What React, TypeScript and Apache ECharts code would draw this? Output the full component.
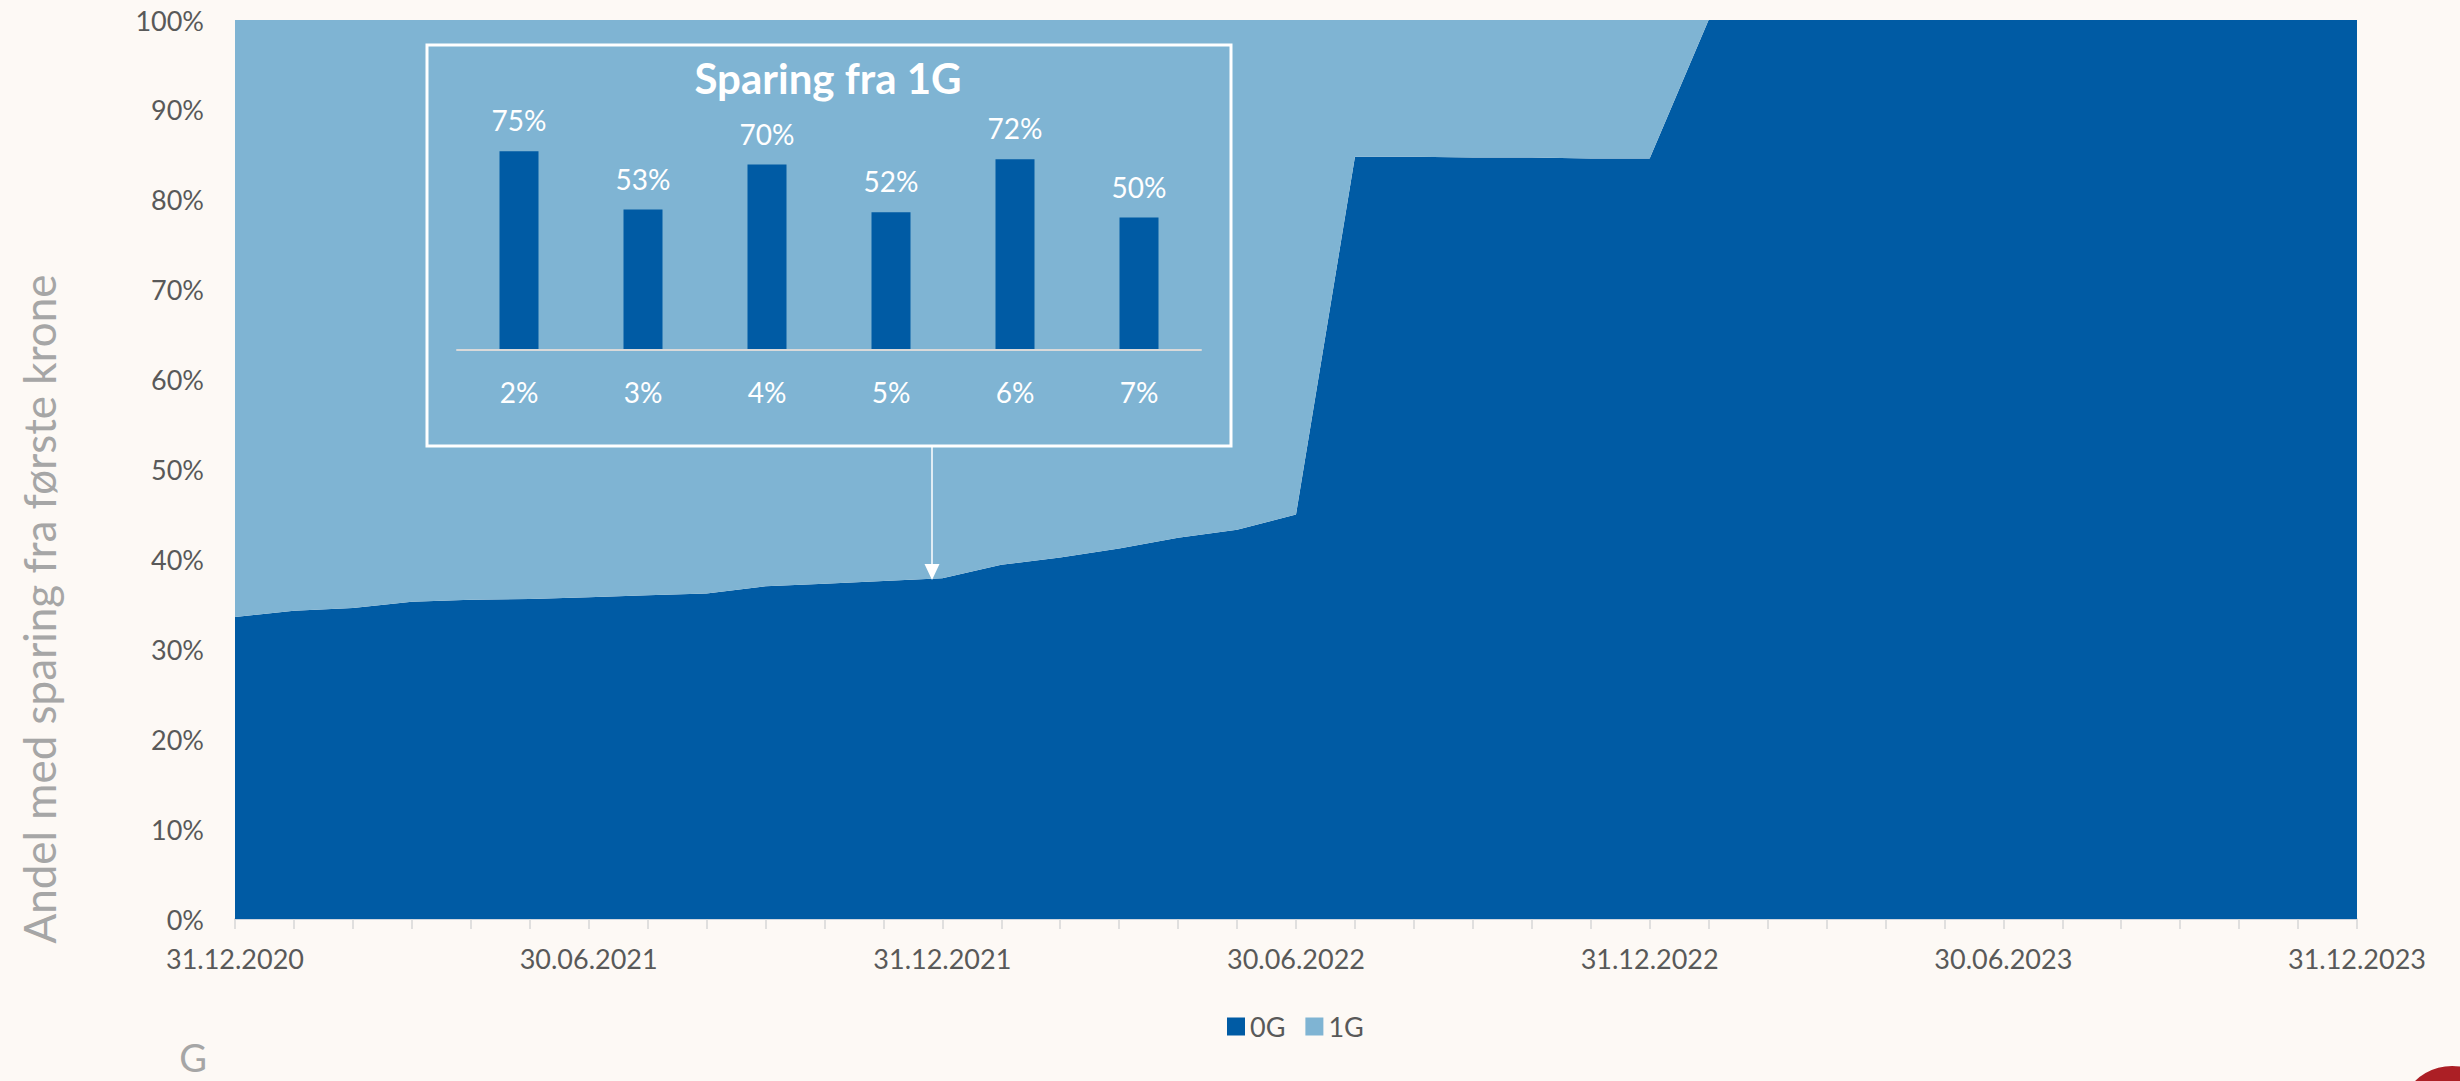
import React, { useEffect, useRef } from "react";
import * as echarts from "echarts";

const dates = [
  "31.12.2020", "31.01.2021", "28.02.2021", "31.03.2021", "30.04.2021", "31.05.2021",
  "30.06.2021", "31.07.2021", "31.08.2021", "30.09.2021", "31.10.2021", "30.11.2021",
  "31.12.2021", "31.01.2022", "28.02.2022", "31.03.2022", "30.04.2022", "31.05.2022",
  "30.06.2022", "31.07.2022", "31.08.2022", "30.09.2022", "31.10.2022", "30.11.2022",
  "31.12.2022", "31.01.2023", "28.02.2023", "31.03.2023", "30.04.2023", "31.05.2023",
  "30.06.2023", "31.07.2023", "31.08.2023", "30.09.2023", "31.10.2023", "30.11.2023",
  "31.12.2023",
];

const share0G = [
  33.6, 34.3, 34.6, 35.3, 35.5, 35.6, 35.8, 36.0, 36.2, 37.0, 37.3, 37.6,
  37.9, 39.4, 40.2, 41.2, 42.4, 43.3, 45.0, 84.8, 84.8, 84.7, 84.7, 84.6,
  84.6, 100, 100, 100, 100, 100, 100, 100, 100, 100, 100, 100, 100,
];

const share1G = [
  66.4, 65.7, 65.4, 64.7, 64.5, 64.4, 64.2, 64.0, 63.8, 63.0, 62.7, 62.4,
  62.1, 60.6, 59.8, 58.8, 57.6, 56.7, 55.0, 15.2, 15.2, 15.3, 15.3, 15.4,
  15.4, 0, 0, 0, 0, 0, 0, 0, 0, 0, 0, 0, 0,
];

const yTicks = [0, 10, 20, 30, 40, 50, 60, 70, 80, 90, 100];

const insetCategories = ["2%", "3%", "4%", "5%", "6%", "7%"];
const insetValues = [75, 53, 70, 52, 72, 50];

const DARK = "#005BA4";
const LIGHT = "#7FB4D3";
const FONT = "Lato, 'Open Sans', sans-serif";

export default function App() {
  const ref = useRef<HTMLDivElement>(null);

  useEffect(() => {
    document.body.style.margin = "0";
    const chart = echarts.init(ref.current!, undefined, { renderer: "svg" });
    chart.setOption({
      animation: false,
      backgroundColor: "#FDF9F5",
      textStyle: { fontFamily: FONT },
      grid: [
        { left: 235, right: 103, top: 20, bottom: 162 },
        { left: 457, width: 744, top: 85, height: 265, z: 10 },
      ],
      legend: {
        data: ["0G", "1G"],
        left: 1222,
        top: 1008,
        itemWidth: 18,
        itemHeight: 18,
        itemGap: 20,
        icon: "rect",
        textStyle: { fontSize: 27, color: "#595959", fontFamily: FONT },
      },
      xAxis: [
        {
          type: "category",
          gridIndex: 0,
          data: dates,
          boundaryGap: false,
          axisLine: { show: true, lineStyle: { color: "#bcc8d6", width: 1.5 } },
          axisTick: { show: true, interval: 0, length: 10, lineStyle: { color: "#d6d6d6", width: 1.5 } },
          axisLabel: {
            interval: 5,
            margin: 26,
            fontSize: 27,
            color: "#595959",
            fontFamily: FONT,
            showMinLabel: true,
            showMaxLabel: true,
          },
          splitLine: { show: false },
        },
        {
          type: "category",
          gridIndex: 1,
          data: insetCategories,
          z: 10,
          axisLine: { show: true, lineStyle: { color: "#d9d9d9", width: 2 } },
          axisTick: { show: false },
          axisLabel: { margin: 28, fontSize: 28, color: "#ffffff", fontFamily: FONT },
        },
      ],
      yAxis: [
        {
          type: "value",
          gridIndex: 0,
          min: yTicks[0],
          max: yTicks[yTicks.length - 1],
          interval: 10,
          axisLine: { show: false },
          axisTick: { show: false },
          splitLine: { show: false },
          axisLabel: {
            formatter: "{value}%",
            margin: 31,
            fontSize: 27,
            color: "#595959",
            fontFamily: FONT,
          },
        },
        {
          type: "value",
          gridIndex: 1,
          min: 0,
          max: 100,
          show: false,
          splitLine: { show: false },
        },
      ],
      series: [
        {
          name: "0G",
          type: "line",
          stack: "total",
          xAxisIndex: 0,
          yAxisIndex: 0,
          data: share0G,
          symbol: "none",
          lineStyle: { width: 0 },
          itemStyle: { color: DARK },
          areaStyle: { color: DARK, opacity: 1 },
        },
        {
          name: "1G",
          type: "line",
          stack: "total",
          xAxisIndex: 0,
          yAxisIndex: 0,
          data: share1G,
          symbol: "none",
          lineStyle: { width: 0 },
          itemStyle: { color: LIGHT },
          areaStyle: { color: LIGHT, opacity: 1 },
        },
        {
          name: "inset",
          type: "bar",
          xAxisIndex: 1,
          yAxisIndex: 1,
          data: insetValues,
          barWidth: 39,
          itemStyle: { color: DARK },
          label: {
            show: true,
            position: "top",
            distance: 17,
            formatter: "{c}%",
            fontSize: 28,
            color: "#ffffff",
            fontFamily: FONT,
          },
          z: 5,
        },
      ],
      graphic: [
        {
          type: "rect",
          z: 10,
          shape: { x: 427, y: 45, width: 804, height: 401 },
          style: { fill: "none", stroke: "#ffffff", lineWidth: 3 },
        },
        {
          type: "text",
          z: 10,
          x: 828,
          y: 78,
          style: {
            text: "Sparing fra 1G",
            fill: "#ffffff",
            font: `bold 42px ${FONT}`,
            textAlign: "center",
            textVerticalAlign: "middle",
          },
        },
        {
          type: "line",
          z: 10,
          shape: { x1: 932, y1: 447, x2: 932, y2: 566 },
          style: { stroke: "#ffffff", lineWidth: 1.5 },
        },
        {
          type: "polygon",
          z: 10,
          shape: { points: [[924.5, 564], [939.5, 564], [932, 580]] },
          style: { fill: "#ffffff" },
        },
        {
          type: "text",
          z: 10,
          x: 39,
          y: 609,
          rotation: Math.PI / 2,
          style: {
            text: "Andel med sparing fra første krone",
            fill: "#a6a6a6",
            font: `44px ${FONT}`,
            textAlign: "center",
            textVerticalAlign: "middle",
          },
        },
        {
          type: "text",
          z: 10,
          x: 193,
          y: 1057,
          style: {
            text: "G",
            fill: "#a6a6a6",
            font: `38px ${FONT}`,
            textAlign: "center",
            textVerticalAlign: "middle",
          },
        },
        {
          type: "circle",
          z: 10,
          shape: { cx: 2452, cy: 1119, r: 53 },
          style: { fill: "#AC1F25" },
        },
      ],
    });
    return () => chart.dispose();
  }, []);

  return <div ref={ref} style={{ width: 2460, height: 1081 }} />;
}
